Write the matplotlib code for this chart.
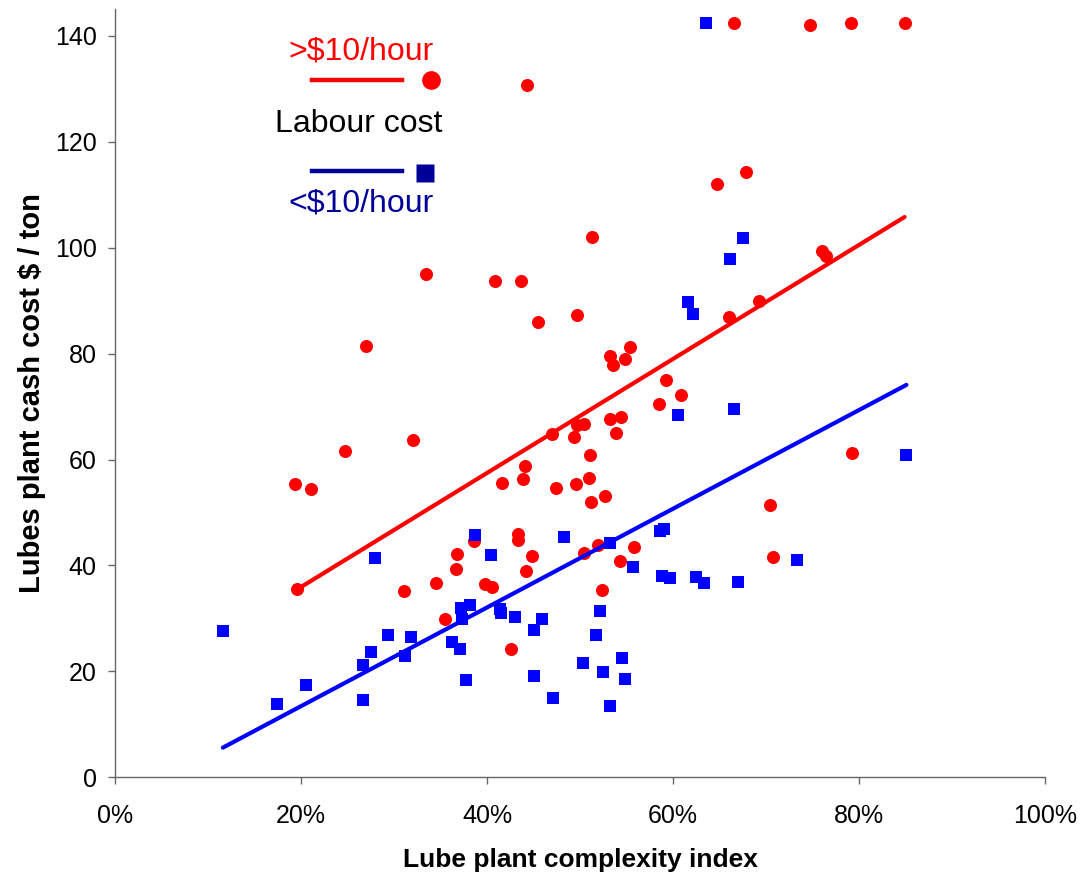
import matplotlib
matplotlib.use("Agg")
import matplotlib.pyplot as plt
import numpy as np

plt.rcParams['font.family'] = ['Liberation Sans', 'DejaVu Sans']

# ---- data (x in % complexity index, y in $/ton) ----
high_x = [66.6, 74.7, 79.1, 84.9, 44.3, 64.7, 67.8, 51.3, 33.4, 40.9, 43.7, 45.5, 49.7, 27.0,
          76.0, 76.5, 66.0, 69.3, 55.4, 53.2, 54.8, 53.6, 59.2, 60.9, 58.5, 53.2, 54.4, 53.9,
          49.4, 50.4, 49.7, 47.0, 51.1, 79.2, 47.4, 49.6, 51.0, 51.2, 52.7, 70.4, 50.4, 51.9,
          55.8, 54.3, 70.8, 52.4, 32.0, 24.7, 19.4, 21.1, 19.6, 44.1, 41.6, 43.9, 43.3, 43.3,
          38.6, 36.8, 36.7, 44.8, 44.2, 34.5, 31.1, 39.8, 40.5, 35.5, 42.6]
high_y = [142.5, 142.1, 142.5, 142.5, 130.8, 112.1, 114.3, 102.0, 95.0, 93.7, 93.8, 85.9, 87.3, 81.4,
          99.4, 98.5, 86.9, 89.9, 81.2, 79.6, 79.0, 77.9, 75.1, 72.1, 70.4, 67.7, 68.1, 65.1,
          64.3, 66.8, 66.5, 64.8, 60.9, 61.2, 54.7, 55.3, 56.5, 51.9, 53.2, 51.4, 42.4, 43.9,
          43.5, 40.8, 41.6, 35.4, 63.7, 61.6, 55.4, 54.4, 35.5, 58.8, 55.6, 56.4, 45.9, 44.8,
          44.7, 42.1, 39.3, 41.7, 39.0, 36.7, 35.2, 36.5, 35.9, 29.9, 24.2]

low_x = [63.5, 67.5, 66.1, 61.6, 62.2, 60.5, 66.6, 85.1, 48.3, 58.6, 59.0, 53.2, 73.3, 55.7,
         58.8, 59.7, 62.5, 63.3, 67.0, 52.2, 51.7, 50.3, 54.5, 52.5, 54.8, 47.1, 53.2, 38.7,
         40.4, 28.0, 37.2, 38.2, 37.3, 41.4, 41.5, 43.0, 45.9, 45.1, 11.6, 29.4, 31.8, 36.2,
         37.1, 27.5, 31.2, 26.7, 45.1, 37.7, 20.5, 17.4, 26.7]
low_y = [142.5, 101.8, 97.9, 89.7, 87.5, 68.5, 69.5, 60.9, 45.4, 46.6, 46.9, 44.2, 41.0, 39.7,
         38.1, 37.7, 37.9, 36.7, 36.9, 31.4, 26.9, 21.5, 22.5, 19.9, 18.6, 14.9, 13.5, 45.8,
         42.0, 41.5, 32.0, 32.5, 29.8, 31.7, 31.0, 30.2, 29.8, 27.9, 27.6, 26.9, 26.4, 25.6,
         24.3, 23.6, 22.9, 21.2, 19.1, 18.3, 17.4, 13.8, 14.6]

# trend lines (endpoints)
high_trend_x = [19.6, 84.9]
high_trend_y = [35.5, 105.8]
low_trend_x = [11.6, 85.1]
low_trend_y = [5.6, 74.1]

x_ticks = [0, 20, 40, 60, 80, 100]
y_ticks = [0, 20, 40, 60, 80, 100, 120, 140]

RED = '#FF0000'
BLUE = '#0000FF'
NAVY = '#000099'

W, H = 1080, 876
fig = plt.figure(figsize=(W / 100, H / 100), dpi=100)
ax = fig.add_axes([115 / W, 1 - 777.3 / H, 930 / W, (777.3 - 9.4) / H])

ax.scatter(high_x, high_y, s=88, marker='o', color=RED, linewidths=0, zorder=3, clip_on=False)
ax.scatter(low_x, low_y, s=80, marker='s', color=BLUE, linewidths=0, zorder=3, clip_on=False)
ax.plot(high_trend_x, high_trend_y, color=RED, lw=3, solid_capstyle='round', zorder=4)
ax.plot(low_trend_x, low_trend_y, color=BLUE, lw=3, solid_capstyle='round', zorder=4)

ax.set_xlim(0, 100)
ax.set_ylim(0, 145)
ax.set_xticks(x_ticks)
ax.set_xticklabels([f"{v}%" for v in x_ticks])
ax.set_yticks(y_ticks)
for s in ['top', 'right']:
    ax.spines[s].set_visible(False)
for s in ['left', 'bottom']:
    ax.spines[s].set_color('#666666')
    ax.spines[s].set_linewidth(1.0)
ax.tick_params(axis='both', direction='out', length=5.3, width=1.0, color='#666666',
               labelsize=18)
ax.tick_params(axis='y', pad=8)
ax.tick_params(axis='x', pad=14)

ax.set_xlabel('Lube plant complexity index', fontsize=19, fontweight='bold', labelpad=14)
ax.set_ylabel('Lubes plant cash cost $ / ton', fontsize=21, fontweight='bold', labelpad=6)

# custom legend
ax.plot([21.2, 30.9], [131.7, 131.7], color=RED, lw=3.2, clip_on=False)
ax.plot([34.0], [131.7], marker='o', ms=13.5, color=RED, mec='none', clip_on=False)
ax.plot([21.2, 30.9], [114.5, 114.5], color=NAVY, lw=3.2, clip_on=False)
ax.plot([33.3], [114.1], marker='s', ms=13, color=NAVY, mec='none', clip_on=False)
ax.text(26.5, 137.0, '>$10/hour', color=RED, fontsize=23, ha='center', va='center')
ax.text(26.2, 123.3, 'Labour cost', color='black', fontsize=23, ha='center', va='center')
ax.text(26.5, 108.3, '<$10/hour', color=NAVY, fontsize=23, ha='center', va='center')

fig.savefig('out.png', dpi=100)
